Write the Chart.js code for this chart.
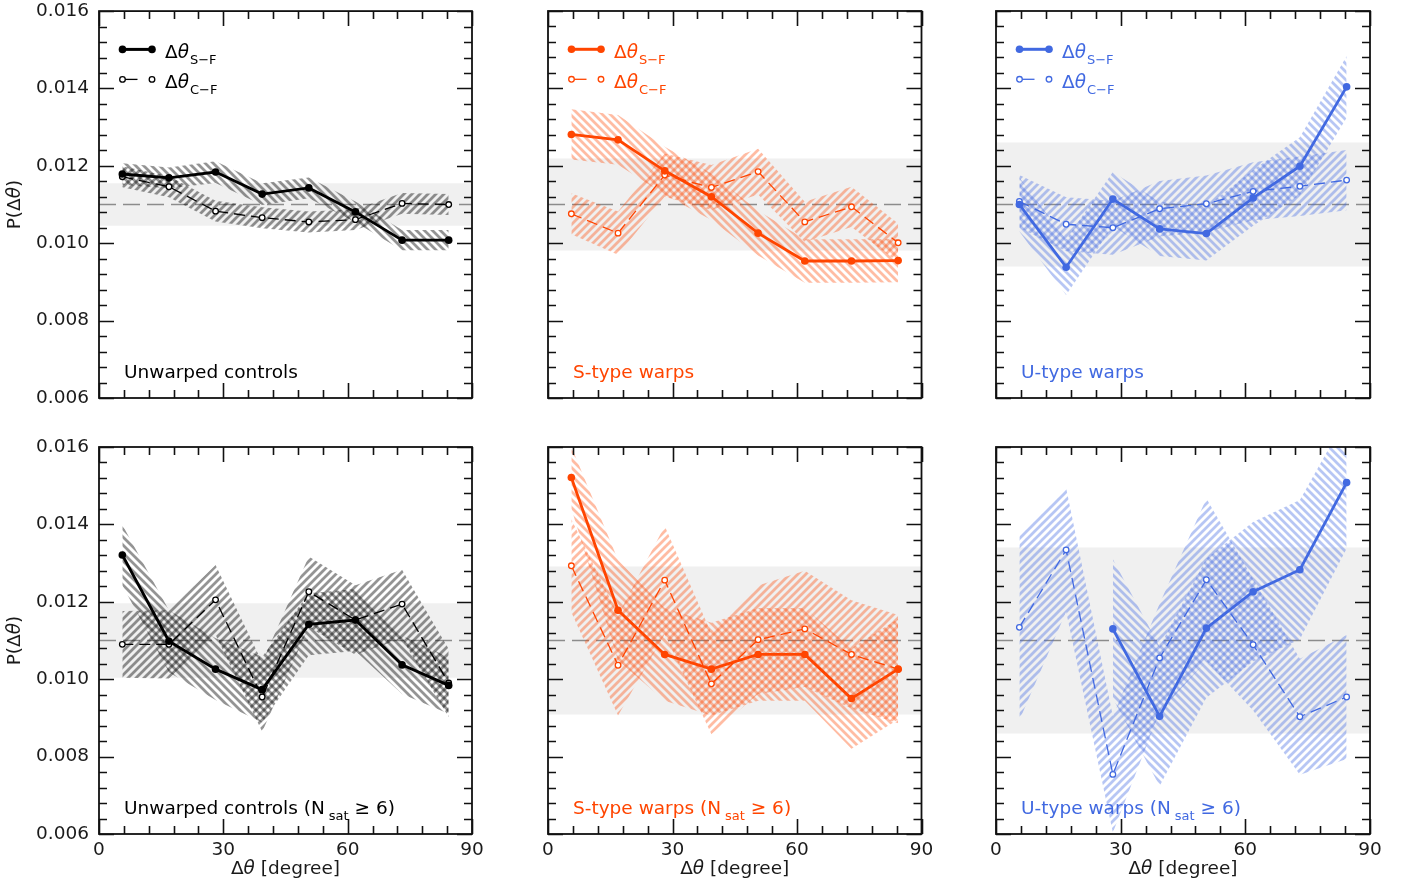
<!DOCTYPE html>
<html>
<head>
<meta charset="utf-8">
<title>P(Δθ) panels</title>
<script src="https://cdn.jsdelivr.net/npm/chart.js@4.4.1/dist/chart.umd.min.js"></script>
<style>
  html, body { margin: 0; padding: 0; background: #fff; }
  body { position: relative; width: 1416px; height: 882px; overflow: hidden; }
  canvas { position: absolute; }
</style>
</head>
<body>
<script>
// bin centres of the angle histogram (degree)
const angleBins = [5.625, 16.875, 28.125, 39.375, 50.625, 61.875, 73.125, 84.375];
const xTicks = [0, 30, 60, 90];
const yTicks = [0.006, 0.008, 0.010, 0.012, 0.014, 0.016];

// top row: all satellites
const ctrlSF    = [0.01179, 0.01169, 0.01184, 0.01127, 0.01143, 0.01081, 0.01008, 0.01008];
const ctrlSFErr = [0.00028, 0.00027, 0.00028, 0.00028, 0.00027, 0.00027, 0.00026, 0.00026];
const ctrlCF    = [0.01172, 0.01146, 0.01083, 0.01066, 0.01055, 0.01061, 0.01103, 0.01100];
const ctrlCFErr = [0.00027, 0.00027, 0.00027, 0.00027, 0.00027, 0.00027, 0.00027, 0.00027];

const sTypeSF    = [0.01281, 0.01267, 0.01187, 0.01120, 0.01026, 0.00954, 0.00954, 0.00955];
const sTypeSFErr = [0.00065, 0.00064, 0.00062, 0.00060, 0.00058, 0.00056, 0.00056, 0.00056];
const sTypeCF    = [0.01076, 0.01026, 0.01176, 0.01144, 0.01185, 0.01055, 0.01094, 0.01001];
const sTypeCFErr = [0.00053, 0.00056, 0.00056, 0.00058, 0.00059, 0.00052, 0.00052, 0.00050];

const uTypeSF    = [0.01100, 0.00938, 0.01114, 0.01037, 0.01025, 0.01117, 0.01199, 0.01404];
const uTypeSFErr = [0.00070, 0.00072, 0.00070, 0.00070, 0.00070, 0.00072, 0.00075, 0.00080];
const uTypeCF    = [0.01108, 0.01049, 0.01040, 0.01089, 0.01102, 0.01134, 0.01147, 0.01163];
const uTypeCFErr = [0.00068, 0.00070, 0.00070, 0.00072, 0.00073, 0.00075, 0.00077, 0.00078];

// bottom row: N_sat >= 6
const ctrl6SF    = [0.01321, 0.01098, 0.01026, 0.00973, 0.01142, 0.01153, 0.01037, 0.00984];
const ctrl6SFErr = [0.00078, 0.00080, 0.00080, 0.00085, 0.00080, 0.00080, 0.00075, 0.00073];
const ctrl6CF    = [0.01090, 0.01090, 0.01205, 0.00954, 0.01226, 0.01153, 0.01194, 0.00990];
const ctrl6CFErr = [0.00086, 0.00088, 0.00090, 0.00090, 0.00091, 0.00090, 0.00089, 0.00088];

const sType6SF    = [0.01521, 0.01178, 0.01064, 0.01026, 0.01064, 0.01064, 0.00950, 0.01026];
const sType6SFErr = [0.00080, 0.00130, 0.00120, 0.00120, 0.00120, 0.00120, 0.00130, 0.00130];
const sType6CF    = [0.01293, 0.01036, 0.01256, 0.00988, 0.01102, 0.01130, 0.01064, 0.01026];
const sType6CFErr = [0.00120, 0.00130, 0.00140, 0.00130, 0.00140, 0.00150, 0.00140, 0.00140];

const uType6SF    = [null, null, 0.01130, 0.00904, 0.01132, 0.01226, 0.01283, 0.01508];
const uType6SFErr = [null, null, 0.00180, 0.00180, 0.00180, 0.00180, 0.00180, 0.00170];
const uType6CF    = [0.01134, 0.01334, 0.00754, 0.01055, 0.01257, 0.01089, 0.00903, 0.00954];
const uType6CFErr = [0.00240, 0.00160, 0.00150, 0.00140, 0.00210, 0.00170, 0.00150, 0.00160];

// random expectation and its grey band (half width), one per panel
const uniformLevel = 0.011;
const uniformHalf = [0.00055, 0.00119, 0.00160, 0.00096, 0.00191, 0.00240];

const panelTitles = ["Unwarped controls", "S-type warps", "U-type warps"];

// ---- styling ----
const lineColors = ["#000000", "#ff4500", "#4169e1"];
const hatchColors = ["rgba(0,0,0,0.42)", "rgba(255,69,0,0.36)", "rgba(65,105,225,0.38)"];
const F  = '18.5px "DejaVu Sans"';
const FI = 'italic 18.5px "DejaVu Sans"';
const FS = '13px "DejaVu Sans"';
const TXT = "#1a1a1a";

const cols = [
  { L: 0,   W: 510, x0: 99,  x1: 472 },
  { L: 510, W: 450, x0: 548, x1: 921.5 },
  { L: 960, W: 456, x0: 996, x1: 1370 }
];
const rows = [
  { T: -10, H: 432, y0: 11,  y1: 398 },
  { T: 422, H: 460, y0: 447, y1: 834 }
];

const panels = [
  { row: 0, col: 0, sf: ctrlSF,   sfErr: ctrlSFErr,   cf: ctrlCF,   cfErr: ctrlCFErr,   half: uniformHalf[0] },
  { row: 0, col: 1, sf: sTypeSF,  sfErr: sTypeSFErr,  cf: sTypeCF,  cfErr: sTypeCFErr,  half: uniformHalf[1] },
  { row: 0, col: 2, sf: uTypeSF,  sfErr: uTypeSFErr,  cf: uTypeCF,  cfErr: uTypeCFErr,  half: uniformHalf[2] },
  { row: 1, col: 0, sf: ctrl6SF,  sfErr: ctrl6SFErr,  cf: ctrl6CF,  cfErr: ctrl6CFErr,  half: uniformHalf[3] },
  { row: 1, col: 1, sf: sType6SF, sfErr: sType6SFErr, cf: sType6CF, cfErr: sType6CFErr, half: uniformHalf[4] },
  { row: 1, col: 2, sf: uType6SF, sfErr: uType6SFErr, cf: uType6CF, cfErr: uType6CFErr, half: uniformHalf[5] }
];

function hatch(color, dir){
  const s = 8;
  const c = document.createElement("canvas");
  c.width = s; c.height = s;
  const g = c.getContext("2d");
  g.strokeStyle = color;
  g.lineWidth = 2.8;
  g.beginPath();
  for(let k = -1; k <= 1; k++){
    if(dir === "back"){ // '\'
      g.moveTo(-1, -1 + k*s); g.lineTo(s+1, s+1 + k*s);
    } else {            // '/'
      g.moveTo(-1, s+1 + k*s); g.lineTo(s+1, -1 + k*s);
    }
  }
  g.stroke();
  return g.createPattern(c, "repeat");
}

function points(vals){
  return angleBins.map((x, i) => ({ x, y: vals[i] })).filter(p => p.y !== null);
}

function bandSets(vals, errs, pattern, order){
  const idx = angleBins.map((_, i) => i).filter(i => vals[i] !== null);
  const clear = "rgba(0,0,0,0)";
  return [
    { data: idx.map(i => ({ x: angleBins[i], y: vals[i] + errs[i] })), fill: "+1",
      backgroundColor: pattern, borderColor: clear, borderWidth: 0, pointRadius: 0, order },
    { data: idx.map(i => ({ x: angleBins[i], y: vals[i] - errs[i] })), fill: false,
      borderColor: clear, borderWidth: 0, pointRadius: 0, order }
  ];
}

function drawRuns(ctx, runs, x, y, align){
  let w = 0;
  for(const r of runs){
    ctx.font = r.font;
    r.w = ctx.measureText(r.text).width + (r.pre || 0);
    w += r.w;
  }
  let cx = align === "center" ? x - w/2 : x;
  for(const r of runs){
    ctx.font = r.font;
    ctx.fillText(r.text, cx + (r.pre || 0), y + (r.dy || 0));
    cx += r.w;
  }
}

const panelDecor = {
  id: "panelDecor",
  afterDatasetsDraw(chart, args, opts){
    const { ctx, chartArea: a, scales: { x, y } } = chart;
    const p = opts.panel;
    const color = lineColors[p.col];
    ctx.save();

    // inward ticks on all four sides
    ctx.strokeStyle = "#111";
    ctx.lineWidth = 1.6;
    ctx.beginPath();
    for(let k = 0; k <= 25; k++){
      const v = 0.006 + k*0.0004;
      const len = k % 5 === 0 ? 15 : 8;
      const py = Math.round(y.getPixelForValue(v)) + 0.5;
      ctx.moveTo(a.left, py); ctx.lineTo(a.left + len, py);
      ctx.moveTo(a.right, py); ctx.lineTo(a.right - len, py);
    }
    for(let k = 0; k <= 15; k++){
      const len = k % 5 === 0 ? 15 : 8;
      const px = Math.round(x.getPixelForValue(k*6)) + 0.5;
      ctx.moveTo(px, a.bottom); ctx.lineTo(px, a.bottom - len);
      ctx.moveTo(px, a.top); ctx.lineTo(px, a.top + len);
    }
    ctx.stroke();
    ctx.lineWidth = 1.8;
    ctx.strokeRect(a.left, a.top, a.right - a.left, a.bottom - a.top);

    // panel label
    ctx.fillStyle = color;
    ctx.textBaseline = "alphabetic";
    ctx.textAlign = "left";
    const title = panelTitles[p.col];
    if(p.row === 0){
      drawRuns(ctx, [{ text: title, font: F }], a.left + 25, a.bottom - 20);
    } else {
      drawRuns(ctx, [
        { text: title + " (N", font: F },
        { text: "sat", font: FS, dy: 6, pre: 4 },
        { text: " \u2265 6)", font: F }
      ], a.left + 25, a.bottom - 20);
    }

    // legend (top row only)
    if(p.row === 0){
      const lx0 = a.left + 23.5, lx1 = a.left + 53;
      const y1 = a.top + 38.3, y2 = a.top + 68.3;
      ctx.strokeStyle = color; ctx.fillStyle = color;
      ctx.lineWidth = 3;
      ctx.beginPath(); ctx.moveTo(lx0, y1); ctx.lineTo(lx1, y1); ctx.stroke();
      for(const cx of [lx0, lx1]){
        ctx.beginPath(); ctx.arc(cx, y1, 3.8, 0, Math.PI*2); ctx.fill();
      }
      ctx.lineWidth = 1.3;
      ctx.beginPath(); ctx.moveTo(lx0, y2); ctx.lineTo(lx0 + 15, y2); ctx.stroke();
      for(const cx of [lx0, lx1]){
        ctx.beginPath(); ctx.arc(cx, y2, 2.8, 0, Math.PI*2);
        ctx.fillStyle = "#fff"; ctx.fill(); ctx.stroke();
      }
      ctx.fillStyle = color;
      drawRuns(ctx, [{ text: "\u0394", font: F }, { text: "\u03b8", font: FI },
        { text: "S\u2212F", font: FS, dy: 6, pre: 1 }], a.left + 66, y1 + 8.5);
      drawRuns(ctx, [{ text: "\u0394", font: F }, { text: "\u03b8", font: FI },
        { text: "C\u2212F", font: FS, dy: 6, pre: 1 }], a.left + 66, y2 + 8.5);
    }

    // axis titles
    ctx.fillStyle = TXT;
    if(p.col === 0){
      ctx.save();
      ctx.translate(20 - cols[0].L, (a.top + a.bottom) / 2);
      ctx.rotate(-Math.PI/2);
      drawRuns(ctx, [{ text: "P(\u0394", font: F }, { text: "\u03b8", font: FI }, { text: ")", font: F }], 0, 0, "center");
      ctx.restore();
    }
    if(p.row === 1){
      drawRuns(ctx, [{ text: "\u0394", font: F }, { text: "\u03b8", font: FI }, { text: " [degree]", font: F }],
        (a.left + a.right) / 2, 874 - rows[1].T, "center");
    }
    ctx.restore();
  }
};

for(const p of panels){
  const c = cols[p.col], r = rows[p.row];
  const canvas = document.createElement("canvas");
  canvas.width = c.W; canvas.height = r.H;
  canvas.style.left = c.L + "px"; canvas.style.top = r.T + "px";
  document.body.appendChild(canvas);

  const color = lineColors[p.col];
  const datasets = [
    { data: points(p.sf), borderColor: color, borderWidth: 2.8, pointRadius: 3.8,
      pointBackgroundColor: color, pointBorderWidth: 0, fill: false, order: 1 },
    { data: points(p.cf), borderColor: color, borderWidth: 1.3, borderDash: [11, 6],
      pointRadius: 2.8, pointBorderWidth: 1.3, pointBackgroundColor: "#fff",
      pointBorderColor: color, fill: false, order: 2 },
    ...bandSets(p.sf, p.sfErr, hatch(hatchColors[p.col], "back"), 3),
    ...bandSets(p.cf, p.cfErr, hatch(hatchColors[p.col], "fwd"), 4),
    { data: [{ x: 0, y: uniformLevel }, { x: 90, y: uniformLevel }], borderColor: "#8c8c8c",
      borderWidth: 1.5, borderDash: [17, 7], pointRadius: 0, fill: false, order: 5 },
    { data: [{ x: 0, y: uniformLevel + p.half }, { x: 90, y: uniformLevel + p.half }], fill: "+1",
      backgroundColor: "#f0f0f0", borderColor: "rgba(0,0,0,0)", borderWidth: 0, pointRadius: 0, order: 6 },
    { data: [{ x: 0, y: uniformLevel - p.half }, { x: 90, y: uniformLevel - p.half }], fill: false,
      borderColor: "rgba(0,0,0,0)", borderWidth: 0, pointRadius: 0, order: 6 }
  ];

  new Chart(canvas, {
    type: "line",
    data: { datasets },
    options: {
      responsive: false,
      animation: false,
      devicePixelRatio: 1,
      events: [],
      layout: { padding: { left: 0, top: r.y0 - r.T, right: c.L + c.W - c.x1, bottom: 0 } },
      elements: { line: { tension: 0 } },
      plugins: { legend: { display: false }, tooltip: { enabled: false }, panelDecor: { panel: p } },
      scales: {
        x: {
          type: "linear", min: 0, max: 90,
          afterBuildTicks: s => { s.ticks = xTicks.map(v => ({ value: v })); },
          afterFit: s => { s.height = r.T + r.H - r.y1; },
          grid: { display: false, drawTicks: false },
          border: { display: false },
          ticks: { display: p.row === 1, font: { family: "DejaVu Sans", size: 18.5 }, color: TXT,
                   padding: 5, maxRotation: 0, autoSkip: false, callback: v => String(v) }
        },
        y: {
          type: "linear", min: 0.006, max: 0.016,
          afterBuildTicks: s => { s.ticks = yTicks.map(v => ({ value: v })); },
          afterFit: s => { s.width = c.x0 - c.L; },
          grid: { display: false, drawTicks: false },
          border: { display: false },
          ticks: { display: p.col === 0, font: { family: "DejaVu Sans", size: 18.5 }, color: TXT,
                   padding: 10, callback: v => v.toFixed(3) }
        }
      }
    },
    plugins: [panelDecor]
  });
}
</script>
</body>
</html>
